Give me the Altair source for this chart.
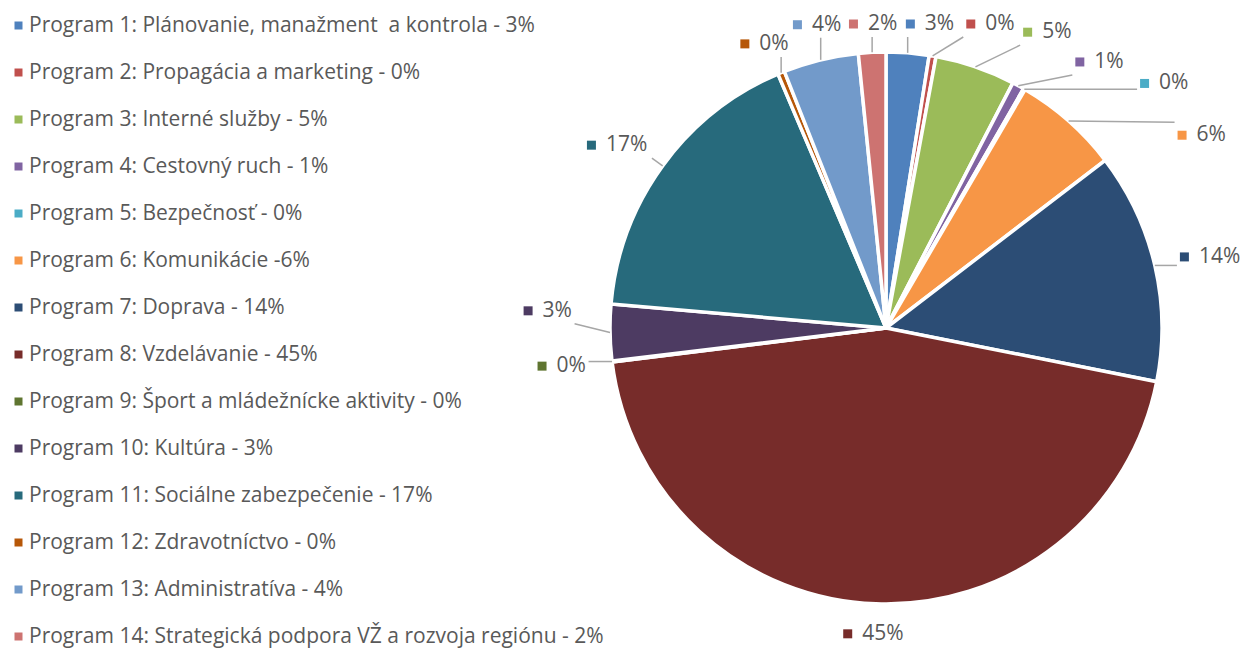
import math
import pandas as pd
import altair as alt

programs = [
    "Program 1: Plánovanie, manažment\u00a0 a kontrola - 3%",
    "Program 2: Propagácia a marketing - 0%",
    "Program 3: Interné služby - 5%",
    "Program 4: Cestovný ruch - 1%",
    "Program 5: Bezpečnosť - 0%",
    "Program 6: Komunikácie -6%",
    "Program 7: Doprava - 14%",
    "Program 8: Vzdelávanie - 45%",
    "Program 9: Šport a mládežnícke aktivity - 0%",
    "Program 10: Kultúra - 3%",
    "Program 11: Sociálne zabezpečenie - 17%",
    "Program 12: Zdravotníctvo - 0%",
    "Program 13: Administratíva - 4%",
    "Program 14: Strategická podpora VŽ a rozvoja regiónu - 2%",
]
values = [2.5, 0.4, 4.7, 0.7, 0.1, 6.2, 13.5, 44.9, 0.05, 3.3, 17.2, 0.4, 4.4, 1.6]
label_texts = ["3%", "0%", "5%", "1%", "0%", "6%", "14%", "45%", "0%", "3%", "17%", "0%", "4%", "2%"]
colors = [
    "#4F81BD", "#C0504D", "#9BBB59", "#8064A2", "#4BACC6", "#F79646", "#2C4D75",
    "#772C2A", "#5F7530", "#4D3B62", "#276A7C", "#B65708", "#729ACA", "#CD7371",
]

# layout
W, H = 1237, 640
CX, CY = 878, 320
R_PIE = 276
FONT = "Open Sans"
GRAY = "#595959"
LAB_FS = 21

n = len(values)
total = sum(values)
cum = 0.0
mids = []
for v in values:
    mids.append((cum + v / 2) / total * 360.0)
    cum += v

# spread labels clockwise so they do not overlap
GAP = 10.0
start = 7
lab_ang = list(mids)
prev = None
for k in range(n):
    i = (start + k) % n
    a = mids[i]
    if prev is not None:
        while a < prev - 180:
            a += 360
        if a < prev + GAP:
            a = prev + GAP
    lab_ang[i] = a
    prev = a
push = [((lab_ang[i] - mids[i]) + 180) % 360 - 180 for i in range(n)]

sq_rows, tx_rows, ln_rows = [], [], []
for i in range(n):
    th = math.radians(lab_ang[i])
    R = 295 + 8 * math.sin(th) ** 2 + 3 * max(push[i], 0)
    w = 20 + 14 * len(label_texts[i])
    h = 22
    gx = (R + w / 2) * math.sin(th)
    gy = min((R + h / 2) * math.cos(th), CY - 16)
    sq_rows.append({"x": gx - w / 2 + 4.5, "y": gy, "color": colors[i]})
    tx_rows.append({"x": gx - w / 2 + 19, "y": gy, "t": label_texts[i]})
    tm = math.radians(mids[i])
    ax, ay = R_PIE * math.sin(tm), R_PIE * math.cos(tm)
    x0, x1 = gx - w / 2 - 3, gx + w / 2 + 3
    y0, y1 = gy - h / 2 - 2, gy + h / 2 + 2
    bx = min(max(ax, x0), x1)
    by = min(max(ay, y0), y1)
    d = math.hypot(bx - ax, by - ay)
    if d > 8 and (abs(math.sin(tm)) > 0.2 or push[i] > 0.3):
        pts = [(ax, ay)]
        if y0 < by < y1 and bx in (x0, x1):
            ex = bx - 10 if bx == x0 else bx + 10
            pts.append((ex, by))
        pts.append((bx, by))
        for j, (px, py) in enumerate(pts):
            ln_rows.append({"x": px, "y": py, "p": i, "o": j})

pie_df = pd.DataFrame({"program": programs, "value": values, "idx": list(range(n))})
sq_df = pd.DataFrame(sq_rows)
tx_df = pd.DataFrame(tx_rows)
ln_df = pd.DataFrame(ln_rows)

xs = alt.Scale(domain=[-CX, W - CX], nice=False, zero=False)
ys = alt.Scale(domain=[-(H - CY), CY], nice=False, zero=False)

pie = alt.Chart(pie_df).mark_arc(outerRadius=R_PIE, stroke="white", strokeWidth=3.5).encode(
    theta=alt.Theta("value:Q", stack=True),
    color=alt.Color(
        "program:N",
        scale=alt.Scale(domain=programs, range=colors),
        sort=programs,
        legend=alt.Legend(
            orient="none", legendX=0, legendY=7, title=None,
            symbolType="square", symbolSize=64, symbolStrokeWidth=0,
            labelFont=FONT, labelFontSize=21, labelColor=GRAY,
            labelLimit=900, rowPadding=25.0, labelOffset=0,
        ),
    ),
    order=alt.Order("idx:Q"),
    x=alt.value(CX),
    y=alt.value(CY),
)

lines = alt.Chart(ln_df).mark_line(color="#A6A6A6", strokeWidth=1.5).encode(
    x=alt.X("x:Q", scale=xs, axis=None),
    y=alt.Y("y:Q", scale=ys, axis=None),
    detail="p:N",
    order="o:Q",
)

squares = alt.Chart(sq_df).mark_point(shape="square", filled=True, size=81, opacity=1).encode(
    x=alt.X("x:Q", scale=xs, axis=None),
    y=alt.Y("y:Q", scale=ys, axis=None),
    color=alt.Color("color:N", scale=None),
)

texts = alt.Chart(tx_df).mark_text(
    align="left", baseline="middle", font=FONT, fontSize=LAB_FS, color=GRAY
).encode(
    x=alt.X("x:Q", scale=xs, axis=None),
    y=alt.Y("y:Q", scale=ys, axis=None),
    text="t:N",
)

chart = alt.layer(pie, lines, squares, texts).properties(
    width=W, height=H, autosize=alt.AutoSizeParams(type="none"), padding=0
).configure_view(stroke=None)

chart.save("out.html", embed_options={"renderer": "svg", "actions": False})
